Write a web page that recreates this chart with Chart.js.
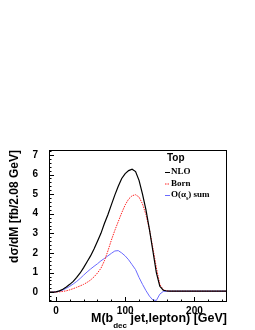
<!DOCTYPE html>
<html>
<head>
<meta charset="utf-8">
<script src="https://cdn.jsdelivr.net/npm/chart.js@4"></script>
<style>
  body { margin: 0; background: #fff; }
  #wrap { width: 255px; height: 330px; }
</style>
</head>
<body>
<div id="wrap"><canvas id="myChart" width="255" height="330"></canvas></div>
<script>
var massBins = [-10, -5, 0, 5, 10, 15, 20, 25, 30, 35, 40, 45, 50, 55, 60, 65, 70, 75, 80, 85,
  90, 95, 100, 105, 110, 115, 120, 125, 130, 135, 140, 145, 150, 155, 160, 165, 170, 175, 180,
  185, 190, 195, 200, 205, 210, 215, 220, 225, 230, 235, 240, 245, 250];

var nloValues = [0, 0, 0.02, 0.07, 0.15, 0.27, 0.4, 0.55, 0.75, 0.98, 1.25, 1.55, 1.85, 2.2,
  2.6, 3.0, 3.5, 3.95, 4.45, 4.95, 5.4, 5.8, 6.05, 6.2, 6.27, 6.15, 5.7, 5.0, 4.2, 3.2, 2.1,
  1.0, 0.3, 0.1, 0.06, 0.05, 0.05, 0.05, 0.05, 0.05, 0.05, 0.05, 0.05, 0.05, 0.05, 0.05, 0.05,
  0.05, 0.05, 0.05, 0.05, 0.05, 0.05];

var bornValues = [0, 0, 0.01, 0.02, 0.04, 0.07, 0.12, 0.18, 0.25, 0.32, 0.4, 0.5, 0.62, 0.78,
  0.98, 1.22, 1.6, 2.1, 2.65, 3.15, 3.6, 4.05, 4.45, 4.75, 4.92, 4.97, 4.85, 4.5, 3.95, 3.2,
  2.25, 1.25, 0.4, 0.12, 0.07, 0.05, 0.05, 0.05, 0.05, 0.05, 0.05, 0.05, 0.05, 0.05, 0.05,
  0.05, 0.05, 0.05, 0.05, 0.05, 0.05, 0.05, 0.05];

var alphaSumValues = [0, 0, 0.02, 0.05, 0.11, 0.2, 0.3, 0.42, 0.55, 0.7, 0.87, 1.03, 1.18,
  1.32, 1.45, 1.6, 1.72, 1.85, 1.98, 2.1, 2.12, 2.0, 1.85, 1.65, 1.4, 1.15, 0.75, 0.4, 0.08,
  -0.2, -0.4, -0.42, -0.1, 0.04, 0.05, 0.05, 0.05, 0.05, 0.05, 0.05, 0.05, 0.05, 0.05, 0.05,
  0.05, 0.05, 0.05, 0.05, 0.05, 0.05, 0.05, 0.05, 0.05];

var xTickLabels = [0, 100, 200];
var yTickLabels = [0, 1, 2, 3, 4, 5, 6, 7];

function pts(vals) {
  return massBins.map(function (m, i) { return { x: m, y: vals[i] }; });
}

// ROOT-ish frame, inward ticks, axis titles and legend
var rootStyle = {
  id: "rootStyle",
  afterDraw: function (chart) {
    var ctx = chart.ctx;
    var a = chart.chartArea;
    var xs = chart.scales.x, ys = chart.scales.y;
    ctx.save();
    ctx.strokeStyle = "#000";
    ctx.lineWidth = 1;
    ctx.strokeRect(Math.round(a.left) + 0.5, Math.round(a.top) + 0.5,
      Math.round(a.right - a.left) - 1, Math.round(a.bottom - a.top) - 1);

    ctx.beginPath();
    for (var v = -0.4; v <= 7.21; v += 0.2) {
      var py = Math.round(ys.getPixelForValue(v)) + 0.5;
      var major = Math.abs(v - Math.round(v)) < 0.01;
      ctx.moveTo(a.left, py);
      ctx.lineTo(a.left + (major ? 5 : 2.5), py);
    }
    for (var m = 0; m <= 240; m += 20) {
      var px = Math.round(xs.getPixelForValue(m)) + 0.5;
      var big = m % 100 === 0;
      ctx.moveTo(px, a.bottom);
      ctx.lineTo(px, a.bottom - (big ? 5 : 2.5));
    }
    ctx.stroke();

    // y title
    ctx.fillStyle = "#000";
    ctx.save();
    ctx.translate(15, a.top);
    ctx.rotate(-Math.PI / 2);
    ctx.font = "bold 12px 'Liberation Sans', Arial, sans-serif";
    ctx.textAlign = "right";
    ctx.textBaseline = "middle";
    ctx.fillText("d\u03c3/dM [fb/2.08 GeV]", 0, 0);
    ctx.restore();

    // x title with subscript
    var bigFont = "bold 12.5px 'Liberation Sans', Arial, sans-serif";
    var subFont = "bold 8px 'Liberation Sans', Arial, sans-serif";
    var part1 = "M(b", part2 = " jet,lepton) [GeV]", sub = "dec";
    ctx.textBaseline = "alphabetic";
    ctx.textAlign = "left";
    ctx.font = bigFont;
    var w1 = ctx.measureText(part1).width, w3 = ctx.measureText(part2).width;
    ctx.font = subFont;
    var w2 = ctx.measureText(sub).width;
    var x0 = a.right - (w1 + w2 + w3);
    var base = 322;
    ctx.font = bigFont;
    ctx.fillText(part1, x0, base);
    ctx.font = subFont;
    ctx.fillText(sub, x0 + w1, base + 6);
    ctx.font = bigFont;
    ctx.fillText(part2, x0 + w1 + w2, base);

    // legend
    ctx.font = "bold 10px 'Liberation Sans', Arial, sans-serif";
    ctx.textBaseline = "middle";
    ctx.fillText("Top", 167, 158);
    var ds = chart.data.datasets;
    var rows = [172, 183.5, 195];
    ds.forEach(function (d, i) {
      var y = rows[i];
      ctx.strokeStyle = d.borderColor;
      ctx.setLineDash(d.borderDash || []);
      ctx.beginPath();
      ctx.moveTo(165, y + 0.5);
      ctx.lineTo(170, y + 0.5);
      ctx.stroke();
      ctx.setLineDash([]);
      ctx.fillStyle = "#000";
      ctx.font = "bold 9px 'Liberation Serif', 'Times New Roman', serif";
      if (d.label.indexOf("_s") >= 0) {
        var p = d.label.split("_s");
        ctx.fillText(p[0], 171, y);
        var pw = ctx.measureText(p[0]).width;
        ctx.font = "bold 6px 'Liberation Serif', 'Times New Roman', serif";
        ctx.fillText("s", 171 + pw, y + 3);
        var sw = ctx.measureText("s").width;
        ctx.font = "bold 9px 'Liberation Serif', 'Times New Roman', serif";
        ctx.fillText(p[1], 171 + pw + sw, y);
      } else {
        ctx.fillText(d.label, 171, y);
      }
    });
    ctx.restore();
  }
};

new Chart("myChart", {
  type: "line",
  data: {
    datasets: [
      {
        label: "NLO",
        data: pts(nloValues),
        borderColor: "#000000",
        borderWidth: 1.2,
        pointRadius: 0,
        fill: false,
        order: 0,
      },
      {
        label: "Born",
        data: pts(bornValues),
        borderColor: "#ff2020",
        borderWidth: 1,
        borderDash: [1.5, 1],
        pointRadius: 0,
        fill: false,
        order: 1,
      },
      {
        label: "O(\u03b1_s) sum",
        data: pts(alphaSumValues),
        borderColor: "#6a6aff",
        borderWidth: 1,
        pointRadius: 0,
        fill: false,
        order: 2,
      },
    ],
  },
  options: {
    responsive: false,
    animation: false,
    layout: { padding: { top: 150, right: 28, left: 0, bottom: 0 } },
    plugins: { legend: { display: false }, tooltip: { enabled: false } },
    scales: {
      x: {
        type: "linear",
        min: -10,
        max: 247,
        grid: { display: false, drawTicks: false },
        border: { display: false },
        ticks: {
          padding: 3,
          color: "#000",
          font: { family: "'Liberation Sans', Arial, sans-serif", size: 10, weight: "bold" },
          maxRotation: 0,
        },
        afterBuildTicks: function (s) { s.ticks = xTickLabels.map(function (v) { return { value: v }; }); },
        afterFit: function (s) { s.height = 28; },
      },
      y: {
        min: -0.5,
        max: 7.25,
        grid: { display: false, drawTicks: false },
        border: { display: false },
        ticks: {
          padding: 11,
          color: "#000",
          font: { family: "'Liberation Sans', Arial, sans-serif", size: 10, weight: "bold" },
        },
        afterBuildTicks: function (s) { s.ticks = yTickLabels.map(function (v) { return { value: v }; }); },
        afterFit: function (s) { s.width = 49; },
      },
    },
  },
  plugins: [rootStyle],
});
</script>
</body>
</html>
